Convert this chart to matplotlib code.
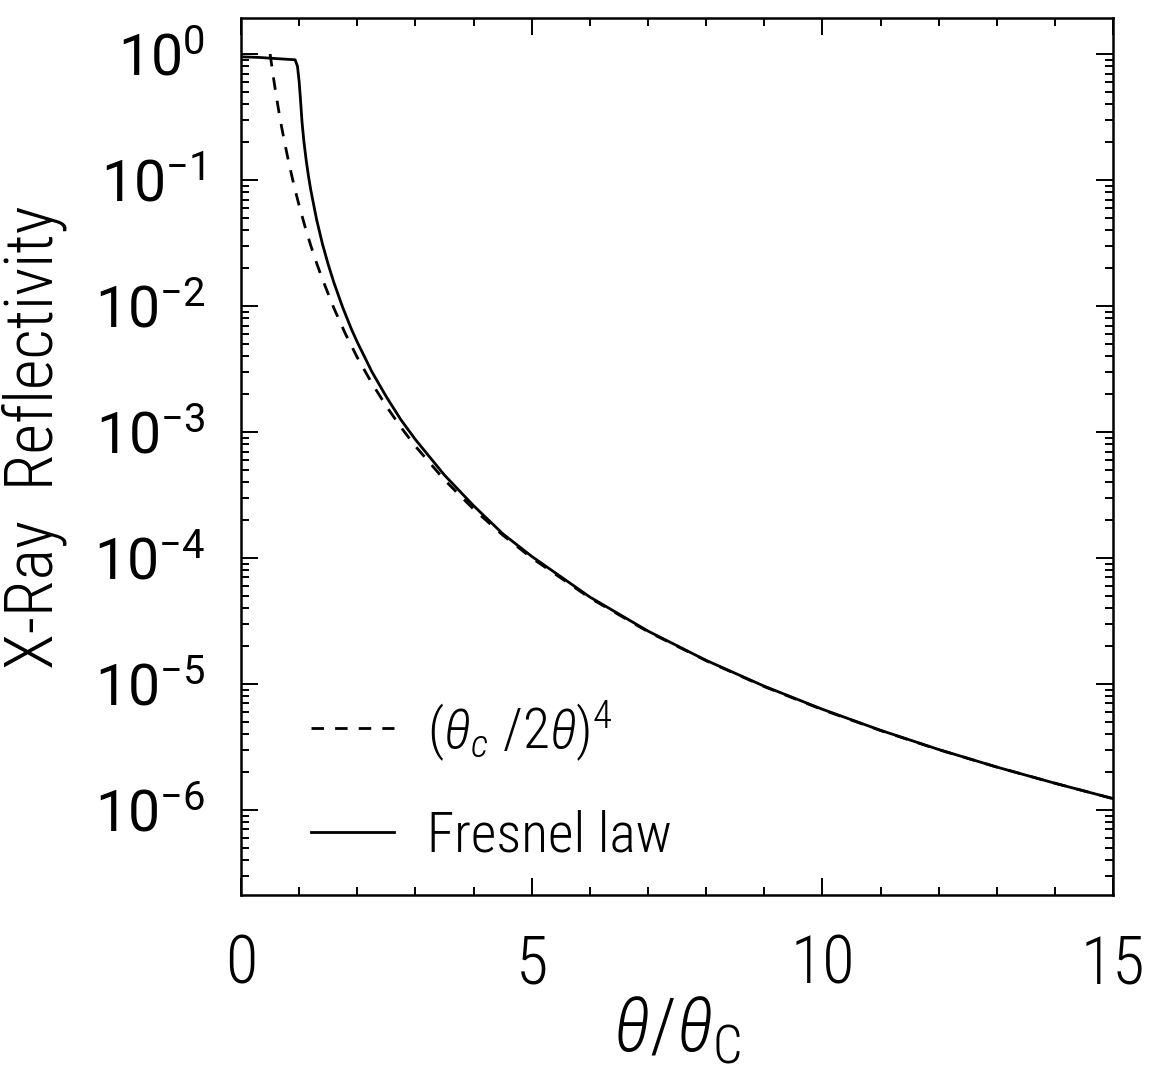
import matplotlib
matplotlib.use("Agg")
import matplotlib.pyplot as plt
from matplotlib.ticker import MultipleLocator, LogLocator, NullFormatter, FixedLocator
from matplotlib.lines import Line2D

# values
fresnel_x = [0.0, 0.3, 0.6, 0.93, 0.97, 1.0, 1.02, 1.05, 1.08, 1.12, 1.16, 1.2,
             1.3, 1.4, 1.5, 1.6, 1.75, 1.9, 2.0, 2.25, 2.5, 2.75, 3.0, 3.5,
             4.0, 4.5, 5.0, 6.0, 7.0, 8.0, 9.0, 10.0, 11.0, 12.0, 13.0, 14.0, 15.0]
fresnel_r = [0.95, 0.94, 0.92, 0.90, 0.80, 0.60, 0.45, 0.284, 0.204, 0.144, 0.107, 0.083,
             0.0484, 0.0311, 0.0213, 0.0152, 0.0097, 0.00652, 0.00516, 0.00301, 0.0019,
             0.00125, 0.00087, 0.000454, 0.00026, 0.000156, 1.03e-4, 4.9e-5, 2.63e-5,
             1.54e-5, 9.6e-6, 6.3e-6, 4.29e-6, 3.02e-6, 2.19e-6, 1.63e-6, 1.23e-6]

approx_x = [0.5, 0.55, 0.6, 0.65, 0.7, 0.75, 0.8, 0.85, 0.9, 0.95, 1.0, 1.1, 1.2,
            1.3, 1.4, 1.6, 1.8, 2.0, 2.25, 2.5, 2.75, 3.0, 3.5, 4.0, 4.5, 5.0,
            6.0, 7.0, 8.0, 9.0, 10.0, 11.0, 12.0, 13.0, 14.0, 15.0]
approx_r = [1.0, 0.683, 0.482, 0.350, 0.260, 0.198, 0.153, 0.120, 0.0953, 0.0768,
            0.0625, 0.0427, 0.0301, 0.0219, 0.0163, 0.00954, 0.00595, 0.0039,
            0.00244, 0.0016, 0.00109, 0.00077, 0.000416, 0.000244, 0.000152, 1.0e-4,
            4.82e-5, 2.6e-5, 1.53e-5, 9.53e-6, 6.25e-6, 4.27e-6, 3.01e-6, 2.19e-6,
            1.63e-6, 1.23e-6]

y_ticks = [1e0, 1e-1, 1e-2, 1e-3, 1e-4, 1e-5, 1e-6]
legend_labels = [r"$(\theta_c\ /2\theta)^4$", "Fresnel law"]

plt.rcParams["font.family"] = ["Roboto Condensed", "Roboto", "DejaVu Sans"]
plt.rcParams["font.weight"] = "light"
plt.rcParams["axes.labelweight"] = "light"
plt.rcParams["mathtext.fontset"] = "custom"
plt.rcParams["mathtext.rm"] = "Roboto Condensed:light"
plt.rcParams["mathtext.it"] = "Roboto Condensed:italic:light"
plt.rcParams["mathtext.bf"] = "Roboto Condensed:bold"

fig = plt.figure(figsize=(11.49, 10.90), dpi=100)
ax = fig.add_axes([0.2098, 0.1789, 0.7589, 0.8046])

ax.plot(approx_x, approx_r, color="black", lw=2.0, dashes=(4.5, 4))
ax.plot(fresnel_x, fresnel_r, color="black", lw=2.0)

ax.set_yscale("log")
ax.set_xlim(0, 15)
ax.set_ylim(10 ** -6.675, 10 ** 0.286)

ax.xaxis.set_major_locator(MultipleLocator(5))
ax.xaxis.set_minor_locator(MultipleLocator(1))
ax.yaxis.set_major_locator(FixedLocator(y_ticks))
ax.yaxis.set_minor_locator(LogLocator(base=10, subs=range(2, 10), numticks=20))
ax.yaxis.set_minor_formatter(NullFormatter())

ax.tick_params(which="both", direction="in", top=True, right=True, width=1.4)
ax.tick_params(which="major", length=12.5)
ax.tick_params(which="minor", length=6)
ax.tick_params(axis="x", which="major", labelsize=48, pad=28)
ax.tick_params(axis="y", which="major", labelsize=41, pad=26)
for lbl in ax.get_yticklabels():
    lbl.set_family("Roboto")
    lbl.set_weight("normal")

for sp in ax.spines.values():
    sp.set_linewidth(1.8)

ax.set_ylabel("X-Ray  Reflectivity", fontsize=48, fontweight="light")
ax.yaxis.set_label_coords(-0.2, 0.522)
ax.set_xlabel(r"$\theta/\theta_\mathrm{C}$", fontsize=54)
ax.xaxis.set_label_coords(0.5, -0.115)

handles = [Line2D([], [], color="black", lw=2.0, dashes=(4.5, 4)),
           Line2D([], [], color="black", lw=2.0)]
ax.legend(handles, legend_labels, loc="upper left", bbox_to_anchor=(0.08, 0.225),
          frameon=False, fontsize=40, handlelength=1.5, handletextpad=0.6,
          labelspacing=0.85, borderpad=0, borderaxespad=0)

fig.savefig("out.png", dpi=100)
